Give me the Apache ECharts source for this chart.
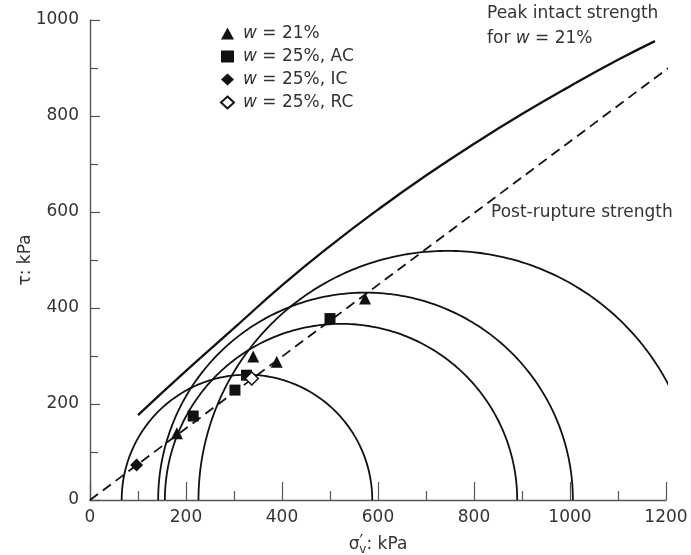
<!DOCTYPE html>
<html>
<head>
<meta charset="utf-8">
<script src="https://cdn.jsdelivr.net/npm/echarts@6/dist/echarts.min.js"></script>
<style>
  html, body { margin: 0; padding: 0; background: #fff; }
  #chart { width: 691px; height: 555px; }
</style>
</head>
<body>
<div id="chart"></div>
<script>
// Mohr circles: minor and major principal stresses (kPa)
const circleSigma3 = [66, 156, 142, 226];
const circleSigma1 = [588, 890, 1006, 1264];
// normal stress at which each arc is stopped (right-hand end)
const circleArcEnd = [588, 890, 1006, 1219];

// Peak intact strength envelope for w = 21% (sigma', tau)
const peakSigma = [100, 200, 300, 400, 500, 600, 700, 800, 900, 1000, 1100, 1177];
const peakTau   = [177, 269, 358, 447, 529, 605, 676, 742, 804, 862, 917, 956];

// Post-rupture strength line (sigma', tau)
const ruptureSigma = [0, 1205];
const ruptureTau   = [0, 900];

// Test points
const w21Sigma = [181, 340, 389, 573];
const w21Tau   = [139, 299, 288, 420];
const acSigma  = [215, 302, 326, 500];
const acTau    = [175, 229, 260, 378];
const icSigma  = [97];
const icTau    = [73];
const rcSigma  = [337];
const rcTau    = [253];

const xTicks = [0, 200, 400, 600, 800, 1000, 1200];
const yTicks = [0, 200, 400, 600, 800, 1000];

const FONT = 'DejaVu Sans';
const INK = '#111';
const TXT = '#333';

function pairs(xs, ys) { return xs.map((x, i) => [x, ys[i]]); }

// Upper half of a Mohr circle from sigma3 up to the arc end
function mohrArc(s3, s1, sEnd) {
  const c = (s1 + s3) / 2, r = (s1 - s3) / 2;
  const endAngle = Math.acos(Math.max(-1, Math.min(1, (sEnd - c) / r)));
  const pts = [];
  const steps = 180;
  for (let k = 0; k <= steps; k++) {
    const a = Math.PI - (Math.PI - endAngle) * k / steps;
    pts.push([c + r * Math.cos(a), r * Math.sin(a)]);
  }
  return pts;
}

const circleSeries = circleSigma3.map((s3, i) => ({
  type: 'line',
  data: mohrArc(s3, circleSigma1[i], circleArcEnd[i]),
  showSymbol: false,
  silent: true,
  lineStyle: { color: INK, width: 1.8 },
  z: 2
}));

const markerBase = { type: 'scatter', z: 5 };

const option = {
  animation: false,
  backgroundColor: '#fff',
  grid: { left: 90, right: 25, top: 20, bottom: 55, outerBoundsMode: 'none', containLabel: false },
  xAxis: {
    type: 'value', min: 0, max: 1200, interval: 200,
    name: '{s|σ}{p|′}{v|v}{s|: kPa}',
    nameLocation: 'middle', nameGap: 34,
    nameTextStyle: {
      fontFamily: FONT, fontSize: 17, color: TXT,
      rich: {
        s: { fontFamily: FONT, fontSize: 17, color: TXT },
        p: { fontFamily: FONT, fontSize: 17, color: TXT, padding: [0, 0, 4, 0] },
        v: { fontFamily: FONT, fontSize: 12, color: TXT, padding: [10, 0, 0, -4] }
      }
    },
    axisLine: { show: true, lineStyle: { color: '#555', width: 1.4 } },
    axisTick: { show: true, inside: true, length: 18, lineStyle: { color: '#555', width: 1.2 } },
    minorTick: { show: true, splitNumber: 2, length: 9, lineStyle: { color: '#555', width: 1.2 } },
    splitLine: { show: false },
    axisLabel: {
      fontFamily: FONT, fontSize: 17, color: TXT, margin: 9,
      formatter: v => xTicks.includes(v) ? String(v) : ''
    }
  },
  yAxis: {
    type: 'value', min: 0, max: 1000, interval: 200,
    name: 'τ: kPa',
    nameLocation: 'middle', nameGap: 56, nameRotate: 90, nameMoveOverlap: false,
    nameTextStyle: { fontFamily: FONT, fontSize: 17, color: TXT },
    axisLine: { show: true, lineStyle: { color: '#555', width: 1.4 } },
    axisTick: { show: true, inside: true, length: 10, lineStyle: { color: '#555', width: 1.2 } },
    minorTick: { show: true, splitNumber: 2, length: 8, lineStyle: { color: '#555', width: 1.2 } },
    splitLine: { show: false },
    axisLabel: {
      fontFamily: FONT, fontSize: 17, color: TXT, margin: 11,
      formatter: v => yTicks.includes(v) ? String(v) : ''
    }
  },
  legend: {
    data: ['w = 21%', 'w = 25%, AC', 'w = 25%, IC', 'w = 25%, RC'],
    orient: 'vertical',
    left: 220, top: 25,
    itemWidth: 13, itemHeight: 12, itemGap: 6,
    padding: 0,
    textStyle: {
      fontFamily: FONT, fontSize: 17, color: TXT, lineHeight: 17, padding: [0, 0, 0, 4],
      rich: { i: { fontFamily: FONT, fontSize: 17, fontStyle: 'italic', color: TXT } }
    },
    formatter: name => name.replace('w', '{i|w}')
  },
  graphic: [
    { type: 'text', left: 487, top: 5,
      style: { text: 'Peak intact strength', font: '17px "DejaVu Sans"', fill: TXT } },
    { type: 'text', left: 487, top: 30,
      style: { text: '{a|for }{i|w}{a| = 21%}', font: '17px "DejaVu Sans"', fill: TXT,
        rich: { a: { font: '17px "DejaVu Sans"', fill: TXT },
                i: { font: 'italic 17px "DejaVu Sans"', fill: TXT } } } },
    { type: 'text', left: 491, top: 204,
      style: { text: 'Post-rupture strength', font: '17px "DejaVu Sans"', fill: TXT } }
  ],
  series: [
    ...circleSeries,
    {
      type: 'line', name: 'peak',
      data: pairs(peakSigma, peakTau),
      smooth: 0.5, showSymbol: false, silent: true,
      lineStyle: { color: INK, width: 2.3 }, z: 3
    },
    {
      type: 'line', name: 'rupture',
      data: pairs(ruptureSigma, ruptureTau),
      showSymbol: false, silent: true,
      lineStyle: { color: INK, width: 1.8, type: [10, 6] }, z: 3
    },
    Object.assign({}, markerBase, {
      name: 'w = 21%', data: pairs(w21Sigma, w21Tau),
      symbol: 'triangle', symbolSize: 12,
      itemStyle: { color: INK, opacity: 1 }
    }),
    Object.assign({}, markerBase, {
      name: 'w = 25%, AC', data: pairs(acSigma, acTau),
      symbol: 'rect', symbolSize: 11,
      itemStyle: { color: INK, opacity: 1 }
    }),
    Object.assign({}, markerBase, {
      name: 'w = 25%, IC', data: pairs(icSigma, icTau),
      symbol: 'diamond', symbolSize: 13,
      itemStyle: { color: INK, opacity: 1 }
    }),
    Object.assign({}, markerBase, {
      name: 'w = 25%, RC', data: pairs(rcSigma, rcTau),
      symbol: 'diamond', symbolSize: 13,
      itemStyle: { color: '#fff', borderColor: INK, borderWidth: 1.5, opacity: 1 }
    })
  ]
};

const chart = echarts.init(document.getElementById('chart'), null, { renderer: 'canvas' });
chart.setOption(option);
</script>
</body>
</html>
